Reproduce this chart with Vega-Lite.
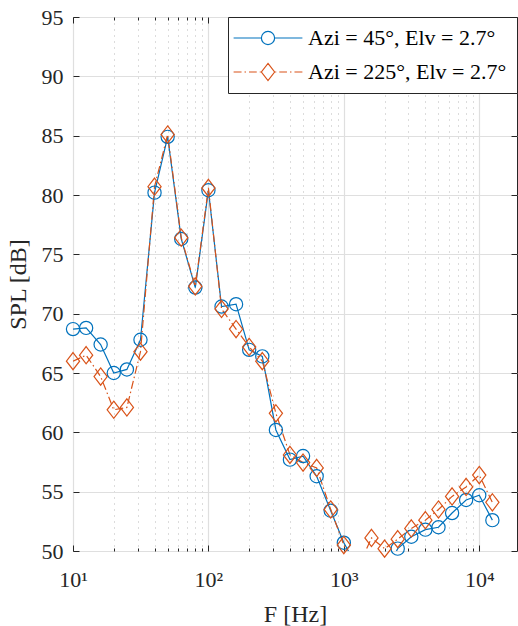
{
  "$schema": "https://vega.github.io/schema/vega-lite/v6.json",
  "width": 444,
  "height": 534,
  "autosize": {"type": "none"},
  "padding": {"left": 73, "top": 17, "right": 1, "bottom": 75},
  "background": "white",
  "config": {
    "font": "Liberation Serif",
    "view": {"stroke": "#262626", "strokeWidth": 1},
    "axis": {
      "labelFont": "Liberation Serif",
      "labelFontSize": 22,
      "labelColor": "#262626",
      "titleFont": "Liberation Serif",
      "titleFontSize": 24,
      "titleFontWeight": "normal",
      "titleColor": "#262626",
      "tickColor": "#262626",
      "domain": false
    },
    "legend": {
      "labelFont": "Liberation Serif",
      "labelFontSize": 22,
      "labelColor": "#000000"
    }
  },
  "data": {
    "values": [
      {"F": 10, "SPL": 68.7, "series": "Azi = 45°, Elv = 2.7°"},
      {"F": 12.5, "SPL": 68.8, "series": "Azi = 45°, Elv = 2.7°"},
      {"F": 16, "SPL": 67.4, "series": "Azi = 45°, Elv = 2.7°"},
      {"F": 20, "SPL": 65.0, "series": "Azi = 45°, Elv = 2.7°"},
      {"F": 25, "SPL": 65.3, "series": "Azi = 45°, Elv = 2.7°"},
      {"F": 31.5, "SPL": 67.8, "series": "Azi = 45°, Elv = 2.7°"},
      {"F": 40, "SPL": 80.2, "series": "Azi = 45°, Elv = 2.7°"},
      {"F": 50, "SPL": 84.9, "series": "Azi = 45°, Elv = 2.7°"},
      {"F": 63, "SPL": 76.3, "series": "Azi = 45°, Elv = 2.7°"},
      {"F": 80, "SPL": 72.2, "series": "Azi = 45°, Elv = 2.7°"},
      {"F": 100, "SPL": 80.4, "series": "Azi = 45°, Elv = 2.7°"},
      {"F": 125, "SPL": 70.6, "series": "Azi = 45°, Elv = 2.7°"},
      {"F": 160, "SPL": 70.8, "series": "Azi = 45°, Elv = 2.7°"},
      {"F": 200, "SPL": 66.95, "series": "Azi = 45°, Elv = 2.7°"},
      {"F": 250, "SPL": 66.4, "series": "Azi = 45°, Elv = 2.7°"},
      {"F": 315, "SPL": 60.2, "series": "Azi = 45°, Elv = 2.7°"},
      {"F": 400, "SPL": 57.7, "series": "Azi = 45°, Elv = 2.7°"},
      {"F": 500, "SPL": 58.0, "series": "Azi = 45°, Elv = 2.7°"},
      {"F": 630, "SPL": 56.3, "series": "Azi = 45°, Elv = 2.7°"},
      {"F": 800, "SPL": 53.4, "series": "Azi = 45°, Elv = 2.7°"},
      {"F": 1000, "SPL": 50.7, "series": "Azi = 45°, Elv = 2.7°"},
      {"F": 1250, "SPL": 48.7, "series": "Azi = 45°, Elv = 2.7°"},
      {"F": 1600, "SPL": 47.5, "series": "Azi = 45°, Elv = 2.7°"},
      {"F": 2000, "SPL": 48.0, "series": "Azi = 45°, Elv = 2.7°"},
      {"F": 2500, "SPL": 50.2, "series": "Azi = 45°, Elv = 2.7°"},
      {"F": 3150, "SPL": 51.2, "series": "Azi = 45°, Elv = 2.7°"},
      {"F": 4000, "SPL": 51.8, "series": "Azi = 45°, Elv = 2.7°"},
      {"F": 5000, "SPL": 52.0, "series": "Azi = 45°, Elv = 2.7°"},
      {"F": 6300, "SPL": 53.2, "series": "Azi = 45°, Elv = 2.7°"},
      {"F": 8000, "SPL": 54.3, "series": "Azi = 45°, Elv = 2.7°"},
      {"F": 10000, "SPL": 54.7, "series": "Azi = 45°, Elv = 2.7°"},
      {"F": 12500, "SPL": 52.6, "series": "Azi = 45°, Elv = 2.7°"},
      {"F": 10, "SPL": 66.0, "series": "Azi = 225°, Elv = 2.7°"},
      {"F": 12.5, "SPL": 66.5, "series": "Azi = 225°, Elv = 2.7°"},
      {"F": 16, "SPL": 64.7, "series": "Azi = 225°, Elv = 2.7°"},
      {"F": 20, "SPL": 61.9, "series": "Azi = 225°, Elv = 2.7°"},
      {"F": 25, "SPL": 62.1, "series": "Azi = 225°, Elv = 2.7°"},
      {"F": 31.5, "SPL": 66.8, "series": "Azi = 225°, Elv = 2.7°"},
      {"F": 40, "SPL": 80.7, "series": "Azi = 225°, Elv = 2.7°"},
      {"F": 50, "SPL": 85.1, "series": "Azi = 225°, Elv = 2.7°"},
      {"F": 63, "SPL": 76.4, "series": "Azi = 225°, Elv = 2.7°"},
      {"F": 80, "SPL": 72.3, "series": "Azi = 225°, Elv = 2.7°"},
      {"F": 100, "SPL": 80.6, "series": "Azi = 225°, Elv = 2.7°"},
      {"F": 125, "SPL": 70.4, "series": "Azi = 225°, Elv = 2.7°"},
      {"F": 160, "SPL": 68.7, "series": "Azi = 225°, Elv = 2.7°"},
      {"F": 200, "SPL": 67.2, "series": "Azi = 225°, Elv = 2.7°"},
      {"F": 250, "SPL": 66.0, "series": "Azi = 225°, Elv = 2.7°"},
      {"F": 315, "SPL": 61.6, "series": "Azi = 225°, Elv = 2.7°"},
      {"F": 400, "SPL": 58.1, "series": "Azi = 225°, Elv = 2.7°"},
      {"F": 500, "SPL": 57.45, "series": "Azi = 225°, Elv = 2.7°"},
      {"F": 630, "SPL": 57.0, "series": "Azi = 225°, Elv = 2.7°"},
      {"F": 800, "SPL": 53.5, "series": "Azi = 225°, Elv = 2.7°"},
      {"F": 1000, "SPL": 50.5, "series": "Azi = 225°, Elv = 2.7°"},
      {"F": 1250, "SPL": 48.4, "series": "Azi = 225°, Elv = 2.7°"},
      {"F": 1600, "SPL": 51.1, "series": "Azi = 225°, Elv = 2.7°"},
      {"F": 2000, "SPL": 50.2, "series": "Azi = 225°, Elv = 2.7°"},
      {"F": 2500, "SPL": 51.0, "series": "Azi = 225°, Elv = 2.7°"},
      {"F": 3150, "SPL": 51.9, "series": "Azi = 225°, Elv = 2.7°"},
      {"F": 4000, "SPL": 52.6, "series": "Azi = 225°, Elv = 2.7°"},
      {"F": 5000, "SPL": 53.5, "series": "Azi = 225°, Elv = 2.7°"},
      {"F": 6300, "SPL": 54.6, "series": "Azi = 225°, Elv = 2.7°"},
      {"F": 8000, "SPL": 55.4, "series": "Azi = 225°, Elv = 2.7°"},
      {"F": 10000, "SPL": 56.4, "series": "Azi = 225°, Elv = 2.7°"},
      {"F": 12500, "SPL": 54.1, "series": "Azi = 225°, Elv = 2.7°"}
    ]
  },
  "layer": [
    {
      "transform": [{"filter": "datum.series == 'Azi = 45°, Elv = 2.7°'"}],
      "mark": {"type": "line", "color": "#0072BD", "strokeWidth": 1.2, "clip": true},
      "encoding": {
        "x": {
          "field": "F", "type": "quantitative",
          "scale": {"type": "log", "domain": [10, 19000]},
          "axis": {
            "values": [20, 30, 40, 50, 60, 70, 80, 90, 200, 300, 400, 500, 600, 700, 800, 900, 2000, 3000, 4000, 5000, 6000, 7000, 8000, 9000],
            "labels": false, "title": null, "grid": true,
            "gridDash": [1, 5], "gridColor": "#b8b8b8", "gridWidth": 1,
            "tickSize": -3, "ticks": true, "orient": "bottom"
          }
        },
        "y": {
          "field": "SPL", "type": "quantitative",
          "scale": {"domain": [50, 95], "nice": false, "zero": false},
          "axis": {
            "values": [50, 55, 60, 65, 70, 75, 80, 85, 90, 95],
            "grid": true, "gridColor": "#dfdfdf", "gridWidth": 1.2,
            "tickSize": -6, "labelPadding": 16,
            "title": "SPL [dB]", "titlePadding": 11, "titleFontSize": 24, "orient": "left"
          }
        }
      }
    },
    {
      "transform": [{"filter": "datum.series == 'Azi = 225°, Elv = 2.7°'"}],
      "mark": {"type": "line", "color": "#D95319", "strokeWidth": 1.2, "strokeDash": [8, 3, 1.5, 3], "clip": true},
      "encoding": {
        "x": {
          "field": "F", "type": "quantitative",
          "scale": {"type": "log", "domain": [10, 19000]},
          "axis": {
            "values": [10, 100, 1000, 10000],
            "labelExpr": "datum.value == 10 ? '10¹' : datum.value == 100 ? '10²' : datum.value == 1000 ? '10³' : '10⁴'",
            "grid": true, "gridColor": "#dfdfdf", "gridWidth": 1.2,
            "tickSize": -6, "labelPadding": 24, "labelFlush": false,
            "title": "F [Hz]", "titlePadding": 12, "titleFontSize": 24, "orient": "bottom"
          }
        },
        "y": {
          "field": "SPL", "type": "quantitative",
          "scale": {"domain": [50, 95], "nice": false, "zero": false},
          "axis": {
            "values": [50, 55, 60, 65, 70, 75, 80, 85, 90, 95],
            "grid": false, "labels": false, "tickSize": -6, "title": null, "orient": "right"
          }
        }
      }
    },
    {
      "transform": [{"filter": "datum.series == 'Azi = 45°, Elv = 2.7°' && datum.SPL >= 50"}],
      "mark": {"type": "point", "shape": "circle", "filled": false, "color": "#0072BD", "strokeWidth": 1.2, "size": 175, "opacity": 1, "clip": false},
      "encoding": {
        "x": {
          "field": "F", "type": "quantitative",
          "scale": {"type": "log", "domain": [10, 19000]},
          "axis": {"values": [10, 100, 1000, 10000], "labels": false, "grid": false, "tickSize": -6, "title": null, "orient": "top"}
        },
        "y": {"field": "SPL", "type": "quantitative", "scale": {"domain": [50, 95], "nice": false, "zero": false}, "axis": null}
      }
    },
    {
      "transform": [{"filter": "datum.series == 'Azi = 225°, Elv = 2.7°' && datum.SPL >= 50"}],
      "mark": {"type": "point", "shape": "M0,-1.3L1,0L0,1.3L-1,0Z", "filled": false, "color": "#D95319", "strokeWidth": 1.2, "size": 175, "opacity": 1, "clip": false},
      "encoding": {
        "x": {
          "field": "F", "type": "quantitative",
          "scale": {"type": "log", "domain": [10, 19000]},
          "axis": {
            "values": [20, 30, 40, 50, 60, 70, 80, 90, 200, 300, 400, 500, 600, 700, 800, 900, 2000, 3000, 4000, 5000, 6000, 7000, 8000, 9000],
            "labels": false, "grid": false, "tickSize": -3, "title": null, "orient": "top"
          }
        },
        "y": {"field": "SPL", "type": "quantitative", "scale": {"domain": [50, 95], "nice": false, "zero": false}, "axis": null}
      }
    },
    {
      "transform": [{"filter": "datum.SPL > 1000"}],
      "mark": {"type": "point", "filled": false, "strokeWidth": 1.2, "size": 175, "opacity": 1},
      "encoding": {
        "x": {"field": "F", "type": "quantitative", "scale": {"type": "log", "domain": [10, 19000]}, "axis": null},
        "y": {"field": "SPL", "type": "quantitative", "scale": {"domain": [50, 95], "nice": false, "zero": false}, "axis": null},
        "color": {
          "field": "series", "type": "nominal",
          "scale": {"domain": ["Azi = 45°, Elv = 2.7°", "Azi = 225°, Elv = 2.7°"], "range": ["#0072BD", "#D95319"]},
          "legend": {
            "title": null, "orient": "top-right", "offset": 0,
            "strokeColor": "#262626", "fillColor": "white", "padding": 10,
            "symbolSize": 175, "symbolStrokeWidth": 1.2, "symbolOffset": 19, "labelOffset": 29,
            "rowPadding": 12, "labelFontSize": 22, "labelLimit": 400
          }
        },
        "shape": {
          "field": "series", "type": "nominal",
          "scale": {
            "domain": ["Azi = 45°, Elv = 2.7°", "Azi = 225°, Elv = 2.7°"],
            "range": [
              "M-5.2,0L-1,0M1,0L5.2,0M1,0A1,1,0,1,1,-1,0A1,1,0,1,1,1,0",
              "M-5.2,0L-4.0,0M-3.55,0L-3.32,0M-2.87,0L-1.7,0M-1.25,0L-1.1,0M0,-1.3L1,0L0,1.3L-1,0ZM1.1,0L1.25,0M1.7,0L2.87,0M3.32,0L3.55,0M4.0,0L5.2,0"
            ]
          },
          "legend": {
            "title": null, "orient": "top-right", "offset": 0,
            "strokeColor": "#262626", "fillColor": "white", "padding": 10,
            "symbolSize": 175, "symbolStrokeWidth": 1.2, "symbolOffset": 19, "labelOffset": 29,
            "rowPadding": 12, "labelFontSize": 22, "labelLimit": 400
          }
        }
      }
    }
  ],
  "resolve": {"axis": {"x": "independent", "y": "independent"}}
}
